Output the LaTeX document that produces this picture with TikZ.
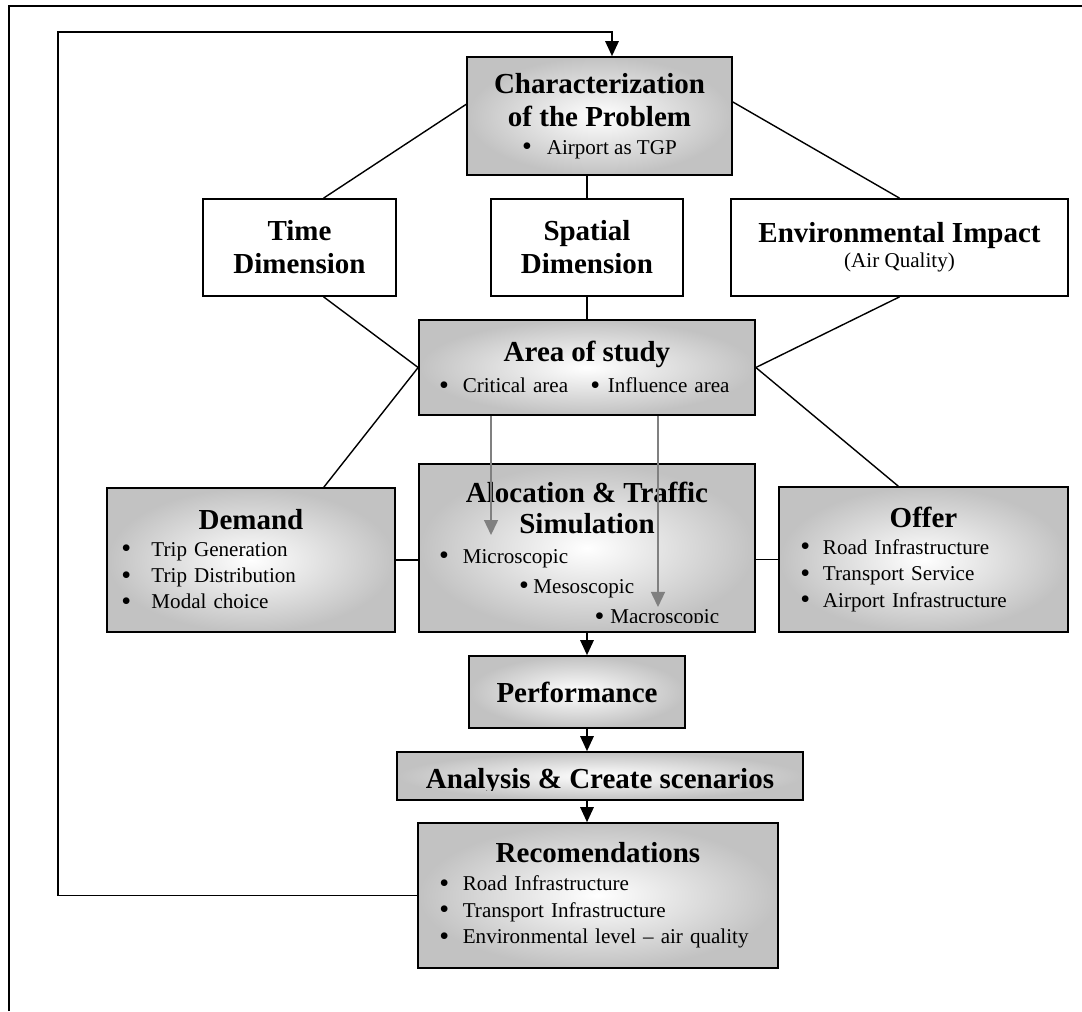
\documentclass[tikz,border=0pt]{standalone}
\usepackage{fontspec}
\setmainfont{Liberation Serif}
\usetikzlibrary{arrows.meta}

\newcommand\titlef{\fontsize{16.5}{18.7}\selectfont\bfseries}
\newcommand\bodyf{\fontsize{12}{15}\selectfont}
\newcommand\dotb{\raisebox{-0.9pt}{\fontsize{16}{15}\selectfont\textbullet}\hspace{-1.4pt}}
\newcommand\bul[1][9.5pt]{\dotb\hspace{#1}}
\newcommand\bitem[3]{\hspace*{#1}\dotb\hspace{#2}#3}

\tikzset{
  shadebox/.style={draw, line width=1pt, inner color=white, outer color=black!24, inner sep=0pt},
  whitebox/.style={draw, line width=1pt, fill=white, inner sep=0pt, align=center},
  link/.style={line width=0.8pt},
  flow/.style={line width=0.8pt, -{Triangle[length=0.3cm, width=0.27cm]}},
  hint/.style={gray, line width=0.8pt, -{Triangle[length=0.3cm, width=0.28cm]}}
}

\begin{document}
\begin{tikzpicture}[x=0.02cm, y=-0.02cm]
	\useasboundingbox (0,0) rectangle (1082,1011);
	\draw[line width=1pt] (9,1011) -- (9,6) -- (1082,6);
	% problem and its three dimensions
	\node[shadebox, align=center, font=\bodyf, minimum width=5.3cm, minimum height=2.36cm] (char) at (599.5,116)
	  {{\titlef Characterization}\\[3.7pt]{\titlef of the Problem}\\[0.9pt]\bul[9.8pt]Airport as TGP};
	\node[whitebox, font=\titlef, minimum width=3.86cm, minimum height=1.94cm] (time) at (299.5,247.5) {Time\\Dimension};
	\node[whitebox, font=\titlef, minimum width=3.84cm, minimum height=1.94cm] (spatial) at (587,247.5) {Spatial\\Dimension};
	\node[whitebox, font=\bodyf, minimum width=6.74cm, minimum height=1.94cm] (env) at (899.5,247.5)
	  {{\titlef Environmental Impact}\\[-0.8pt](Air Quality)};
	\node[shadebox, font=\bodyf, text width=6.72cm, align=left, minimum height=1.9cm] (area) at (587,367.5)
	  {\makebox[\hsize]{\titlef Area of study}\\[3.1pt]\bitem{11.5pt}{9.2pt}{Critical area}\hspace{12.6pt}\bul[5.8pt]Influence area};
	% model
	\node[shadebox, font=\bodyf, text width=5.76cm, align=left, minimum height=2.88cm] (demand) at (251,560)
	  {\makebox[\hsize]{\titlef Demand}\\
	   \bitem{8.1pt}{13pt}{Trip Generation}\\
	   \bitem{8.1pt}{13pt}{Trip Distribution}\\
	   \bitem{8.1pt}{13pt}{Modal choice}};
	\node[shadebox, font=\bodyf, text width=6.72cm, align=left, minimum height=3.36cm] (alloc) at (587,548)
	  {\makebox[\hsize]{\titlef Alocation \& Traffic}\\[2.6pt]
	   \makebox[\hsize]{\titlef Simulation}\\[2pt]
	   \bitem{11.5pt}{9.2pt}{Microscopic}\\[2pt]
	   \bitem{56.9pt}{4pt}{Mesoscopic}\\[-3.1pt]\mbox{}};
	\node[shadebox, font=\bodyf, text width=5.78cm, align=left, minimum height=2.9cm] (offer) at (923.5,559.5)
	  {\makebox[\hsize]{\titlef Offer}\\
	   \bitem{12.1pt}{8.7pt}{Road Infrastructure}\\
	   \bitem{12.1pt}{8.7pt}{Transport Service}\\
	   \bitem{12.1pt}{8.7pt}{Airport Infrastructure}};
	\begin{scope}
	  \clip (alloc.north west) rectangle ([yshift=0.21cm]alloc.south east);
	  \node[font=\bodyf, anchor=base west, inner sep=0pt] (macro) at (594.3,623.5) {\bul[4.7pt]Macroscopic};
	\end{scope}
	% results
	\node[shadebox, font=\titlef, minimum width=4.32cm, minimum height=1.44cm] (perf) at (577,692) {Performance};
	\node[shadebox, minimum width=8.12cm, minimum height=0.96cm] (analysis) at (600,776) {};
	\begin{scope}
	  \clip (analysis.north west) rectangle ([yshift=0.21cm]analysis.south east);
	  \node[font=\titlef, anchor=base, inner sep=0pt] (analysistext) at (600,788) {Analysis \& Create scenarios};
	\end{scope}
	\node[shadebox, font=\bodyf, text width=7.2cm, align=left, minimum height=2.9cm] (recomm) at (598,895.5)
	  {\makebox[\hsize]{\titlef Recomendations}\\[0.9pt]
	   \bitem{12.1pt}{9.2pt}{Road Infrastructure}\\
	   \bitem{12.1pt}{9.2pt}{Transport Infrastructure}\\
	   \bitem{12.1pt}{9.2pt}{Environmental level -- air quality}};
	% connections
	\draw[link] (char.175) -- (time.64);
	\draw[link] (char.6) -- (env.north);
	\draw[link] (spatial.north |- char.south) -- (spatial.north);
	\draw[link] (time.-64) -- (area.west);
	\draw[link] (spatial.south) -- (area.north);
	\draw[link] (env.south) -- (area.east);
	\draw[link] (area.west) -- (demand.45);
	\draw[link] (area.east) -- (offer.109);
	\draw[link] (demand.east) -- (demand.east -| alloc.west);
	\draw[link] (offer.west) -- (offer.west -| alloc.east);
	\draw[hint] ([xshift=-1.92cm]area.south) -- ([xshift=-1.92cm, yshift=0.26cm]alloc.center);
	\draw[hint] ([xshift=1.42cm]area.south) -- ([xshift=1.42cm, yshift=-1.18cm]alloc.center);
	\draw[flow] (alloc.south) -- (alloc.south |- perf.north);
	\draw[flow] (alloc.south |- perf.south) -- (alloc.south |- analysis.north);
	\draw[flow] (alloc.south |- analysis.south) -- (alloc.south |- recomm.north);
	% feedback loop
	\coordinate (back) at (58,32);
	\coordinate (backend) at (612,32);
	\draw[flow] (recomm.west) -| (back) -- (backend) -- (backend |- char.north);
\end{tikzpicture}
\end{document}
